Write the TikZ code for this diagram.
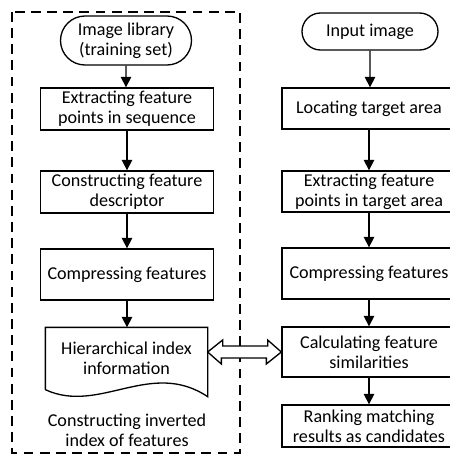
\documentclass[tikz,border=0pt]{standalone}
\usepackage{fontspec}
\setmainfont{Carlito}
\usepackage{tikz}
\usetikzlibrary{arrows.meta,positioning,calc,shapes.misc}

\begin{document}
\begin{tikzpicture}[x=0.02cm,y=-0.02cm,line width=0.75pt,
    font=\fontsize{10.3}{11.2}\selectfont,
    proc/.style={draw,rectangle,align=center,inner sep=0pt},
    term/.style={draw,rounded rectangle,align=center,inner sep=0pt},
    flow/.style={-{Triangle[width=6pt,length=6pt]}}]
      \useasboundingbox (0,0) rectangle (450,457);
      \draw[dash pattern=on 5.6pt off 3.6pt] (12,12) rectangle (240,453);

      \node[term,minimum width=131*0.02cm,minimum height=49*0.02cm] at (126,40.5) (lib) {Image library\\(training set)};
      \node[proc,minimum width=173*0.02cm,minimum height=42*0.02cm] at (127,109) (ext1) {Extracting feature\\points in sequence};
      \node[proc,minimum width=173*0.02cm,minimum height=42*0.02cm] at (127,192) (cons) {Constructing feature\\descriptor};
      \node[proc,minimum width=173*0.02cm,minimum height=51*0.02cm] at (127,274.5) (comp1) {Compressing features};
      \node[align=center,inner sep=0pt,minimum width=161*0.02cm,minimum height=61*0.02cm] at (126.5,358.5) (doc) {Hierarchical index\\information};
      \draw (doc.south west)--(doc.north west)--(doc.north east)--($(doc.south east)+(0,7)$)
            .. controls +(-57,-38) and +(54,25) .. (doc.south west);
      \node[align=center] at (127,430) (note) {Constructing inverted\\index of features};

      \node[term,minimum width=136*0.02cm,minimum height=37*0.02cm] at (370,31.5) (input) {Input image};
      \node[proc,minimum width=174*0.02cm,minimum height=41*0.02cm] at (369,108.5) (loc) {Locating target area};
      \node[proc,minimum width=174*0.02cm,minimum height=41*0.02cm] at (369,191.5) (ext2) {Extracting feature\\points in target area};
      \node[proc,minimum width=174*0.02cm,minimum height=51*0.02cm] at (369,273.5) (comp2) {Compressing features};
      \node[proc,minimum width=174*0.02cm,minimum height=50*0.02cm] at (369,352) (calc) {Calculating feature\\similarities};
      \node[proc,minimum width=174*0.02cm,minimum height=42*0.02cm] at (369,426) (rank) {Ranking matching\\results as candidates};

      \draw[flow] (lib)--(lib |- ext1.north);
      \draw[flow] (ext1)--(cons);
      \draw[flow] (cons)--(comp1);
      \draw[flow] (comp1)--(comp1 |- doc.north);

      \draw[flow] (input)--(input |- loc.north);
      \draw[flow] (loc)--(ext2);
      \draw[flow] (ext2)--(comp2);
      \draw[flow] (comp2)--(calc);
      \draw[flow] (calc)--(rank);

      \draw[fill=white] (doc.east |- calc.west) -- ++(15,-12) -- ++(0,6) -- ++(45,0) -- ++(0,-6)
            -- (calc.west) -- ++(-15,12) -- ++(0,-6) -- ++(-45,0) -- ++(0,6) -- cycle;
    \end{tikzpicture}
\end{document}
